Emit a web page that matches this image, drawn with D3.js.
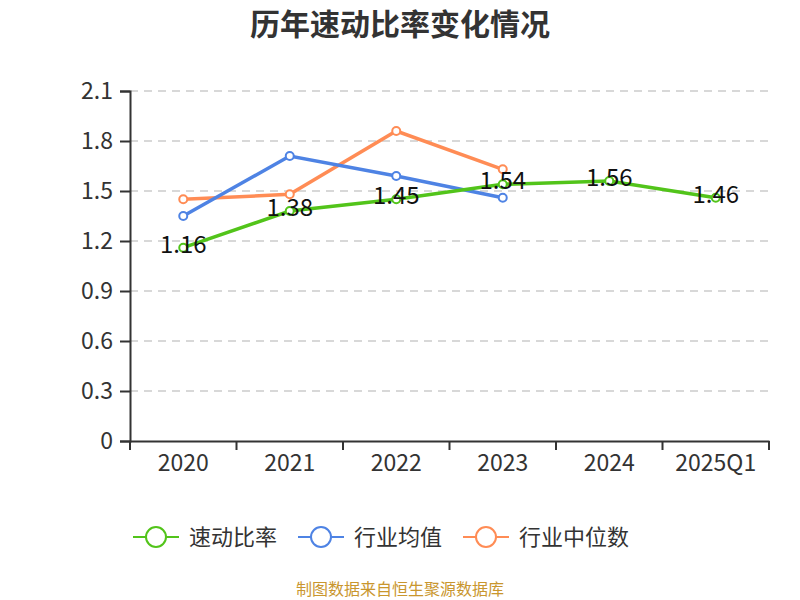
<!DOCTYPE html>
<meta charset="utf-8">
<style>
body { margin: 0; background: #fff; }
text { font-family: "Noto Sans CJK SC", "Noto Sans", sans-serif; }
</style>
<body>
<script src="https://cdnjs.cloudflare.com/ajax/libs/d3/7.8.5/d3.min.js"></script>
<script>

var categories = ["2020", "2021", "2022", "2023", "2024", "2025Q1"];
var quickRatio = [1.16, 1.38, 1.45, 1.54, 1.56, 1.46];
var industryAvg = [1.35, 1.71, 1.59, 1.46, null, null];
var industryMedian = [1.45, 1.48, 1.86, 1.63, null, null];
var yTicks = [0, 0.3, 0.6, 0.9, 1.2, 1.5, 1.8, 2.1];
var seriesNames = ["速动比率", "行业均值", "行业中位数"];
var colors = ["#52c41a", "#4e83e4", "#ff8c55"];

var w = 800, h = 600;
var plotLeft = 130, plotRight = 769, plotTop = 91, plotBottom = 441;

var svg = d3.select("body").append("svg")
	.attr("width", w)
	.attr("height", h);

var x = d3.scaleBand().domain(categories).range([plotLeft, plotRight]);
var y = d3.scaleLinear().domain([0, 2.1]).range([plotBottom, plotTop]);

// title
svg.append("text")
	.attr("x", 400).attr("y", 35)
	.attr("text-anchor", "middle")
	.attr("font-size", 30)
	.attr("font-weight", "bold")
	.attr("fill", "#333")
	.text("历年速动比率变化情况");

// grid
svg.append("g").selectAll("line")
	.data(yTicks.filter(function(d) { return d > 0; }))
	.enter().append("line")
	.attr("x1", plotLeft).attr("x2", plotRight)
	.attr("y1", function(d) { return y(d); })
	.attr("y2", function(d) { return y(d); })
	.attr("stroke", "#ccc")
	.attr("stroke-width", 1.5)
	.attr("stroke-dasharray", "8,6");

// y axis
var yAxis = svg.append("g")
	.attr("transform", "translate(" + plotLeft + ",0)")
	.call(d3.axisLeft(y).tickValues(yTicks).tickSize(10).tickPadding(7)
		.tickFormat(function(d) { return d === 0 ? "0" : d3.format(".1f")(d); }));
yAxis.select(".domain").attr("stroke", "#333").attr("stroke-width", 2);
yAxis.selectAll(".tick line").attr("stroke", "#333").attr("stroke-width", 2);
yAxis.selectAll(".tick text")
	.attr("font-size", 23).attr("fill", "#333")
	.style("font-family", "'Noto Sans CJK SC', sans-serif");

// x axis
var xAxis = svg.append("g")
	.attr("transform", "translate(0," + plotBottom + ")")
	.call(d3.axisBottom(x).tickSize(0).tickPadding(14).tickSizeOuter(0));
xAxis.select(".domain").attr("stroke", "#333").attr("stroke-width", 2);
xAxis.selectAll(".tick text")
	.attr("font-size", 23).attr("fill", "#333")
	.style("font-family", "'Noto Sans CJK SC', sans-serif");
var bounds = categories.map(function(c) { return x(c); }).concat([plotRight]);
xAxis.selectAll(".bt").data(bounds).enter().append("line")
	.attr("x1", function(d) { return d; }).attr("x2", function(d) { return d; })
	.attr("y1", 0).attr("y2", 9)
	.attr("stroke", "#333").attr("stroke-width", 2);

// lines
var allSeries = [quickRatio, industryAvg, industryMedian];
var line = d3.line()
	.defined(function(d) { return d != null; })
	.x(function(d, i) { return x(categories[i]) + x.bandwidth() / 2; })
	.y(function(d) { return y(d); });

[2, 1, 0].forEach(function(s) {
	var data = allSeries[s];
	var g = svg.append("g");
	g.append("path")
		.attr("d", line(data))
		.attr("fill", "none")
		.attr("stroke", colors[s])
		.attr("stroke-width", 3.5);
	g.selectAll("circle")
		.data(data.map(function(d, i) { return {v: d, i: i}; }).filter(function(d) { return d.v != null; }))
		.enter().append("circle")
		.attr("cx", function(d) { return x(categories[d.i]) + x.bandwidth() / 2; })
		.attr("cy", function(d) { return y(d.v); })
		.attr("r", 4)
		.attr("fill", "#fff")
		.attr("stroke", colors[s])
		.attr("stroke-width", 2);
});

// value labels
svg.append("g").selectAll("text")
	.data(quickRatio)
	.enter().append("text")
	.attr("x", function(d, i) { return x(categories[i]) + x.bandwidth() / 2; })
	.attr("y", function(d) { return y(d) + 5; })
	.attr("text-anchor", "middle")
	.attr("font-size", 24)
	.attr("fill", "#111")
	.text(function(d) { return d3.format(".2f")(d); });

// legend
var legendX = [133, 298, 463];
var legend = svg.append("g").selectAll("g")
	.data(seriesNames)
	.enter().append("g")
	.attr("transform", function(d, i) { return "translate(" + legendX[i] + ",537)"; });
legend.append("line")
	.attr("x1", 0).attr("x2", 46)
	.attr("stroke", function(d, i) { return colors[i]; })
	.attr("stroke-width", 2);
legend.append("circle")
	.attr("cx", 23).attr("r", 10)
	.attr("fill", "#fff")
	.attr("stroke", function(d, i) { return colors[i]; })
	.attr("stroke-width", 2);
legend.append("text")
	.attr("x", 56).attr("y", 8)
	.attr("font-size", 22)
	.attr("fill", "#333")
	.text(function(d) { return d; });

// source
svg.append("text")
	.attr("x", 400).attr("y", 595)
	.attr("text-anchor", "middle")
	.attr("font-size", 16)
	.attr("fill", "#c9962e")
	.text("制图数据来自恒生聚源数据库");

</script>
</body>
